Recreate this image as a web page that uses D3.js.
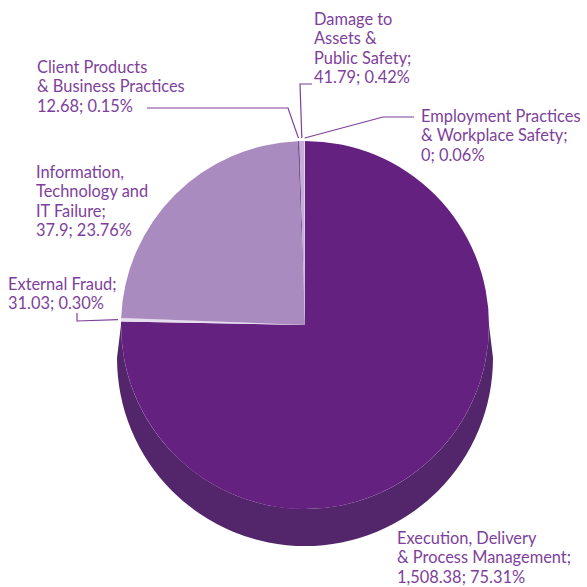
<!DOCTYPE html>
<html>
<head>
<meta charset="utf-8">
<script src="https://cdn.jsdelivr.net/npm/d3@7.9.0/dist/d3.min.js"></script>
<style>
  body { margin: 0; background: #fff; }
  svg text { font-family: Lato, sans-serif; font-size: 16.4px; fill: #7e3f9c; }
</style>
</head>
<body>
<svg id="chart" width="587" height="587"></svg>
<script>
const categories = [
  "Execution, Delivery & Process Management",
  "External Fraud",
  "Information, Technology and IT Failure",
  "Client Products & Business Practices",
  "Damage to Assets & Public Safety",
  "Employment Practices & Workplace Safety"
];
const amounts = [1508.38, 31.03, 37.9, 12.68, 41.79, 0];
const shares = [75.31, 0.30, 23.76, 0.15, 0.42, 0.06];
const labelLines = [
  ["Execution, Delivery", "& Process Management;"],
  ["External Fraud;"],
  ["Information,", "Technology and", "IT Failure;"],
  ["Client Products", "& Business Practices"],
  ["Damage to", "Assets &", "Public Safety;"],
  ["Employment Practices", "& Workplace Safety;"]
];
const colors = ["#652180", "#e6ddef", "#aa8bc0", "#7e4a9c", "#c4add6", "#dcd0e6"];
const sideColors = ["#53266c", "#b9a9c8", "#8a6fa2", "#5e3a78", "#9d86b0", "#b3a6c0"];

const svg = d3.select("#chart");
const cx = 305, cy = 325, r = 184;      // top face
const bx = 305, by = 358, br = 188;     // bottom rim

const pie = d3.pie().sort(null).value(d => d).startAngle(0).endAngle(2 * Math.PI);
const arcs = pie(shares);
const arc = d3.arc().innerRadius(0).outerRadius(r);

const pt = (x0, y0, rad, a) => [x0 + rad * Math.sin(a), y0 - rad * Math.cos(a)];

// sides, front half only
arcs.forEach((d, i) => {
  const a0 = Math.max(d.startAngle, Math.PI / 2);
  const a1 = Math.min(d.endAngle, 3 * Math.PI / 2);
  if (a1 <= a0) return;
  const p = d3.path();
  const s = pt(cx, cy, r, a0);
  p.moveTo(s[0], s[1]);
  p.arc(cx, cy, r, a0 - Math.PI / 2, a1 - Math.PI / 2, false);
  const e = pt(bx, by, br, a1);
  p.lineTo(e[0], e[1]);
  p.arc(bx, by, br, a1 - Math.PI / 2, a0 - Math.PI / 2, true);
  p.closePath();
  svg.append("path").attr("d", p.toString()).attr("fill", sideColors[i]);
});

// top face
svg.append("g")
  .attr("transform", `translate(${cx},${cy})`)
  .selectAll("path")
  .data(arcs)
  .join("path")
  .attr("d", arc)
  .attr("fill", (d, i) => colors[i]);

// labels: x, first baseline, leader elbow points (null = no leader)
const layout = [
  { x: 397, y: 544, leader: null },
  { x: 8, y: 290, leader: [[77, 321], [77, 313]] },
  { x: 36, y: 178, leader: null },
  { x: 37, y: 73, leader: [[288, 108], [147, 108]] },
  { x: 314, y: 25, leader: [[300, 84], [312, 84]] },
  { x: 421, y: 122, leader: [[383, 117], [414, 117]] }
];
const fmtAmt = d3.format(",");
const fmtPct = d3.format(".2f");
const lh = 19.4;

arcs.forEach((d, i) => {
  const L = layout[i];
  const lines = labelLines[i].concat([`${fmtAmt(amounts[i])}; ${fmtPct(shares[i])}%`]);
  const t = svg.append("text").attr("x", L.x).attr("y", L.y);
  lines.forEach((s, k) => t.append("tspan").attr("x", L.x).attr("dy", k ? lh : 0).text(s));
  if (L.leader) {
    const mid = (d.startAngle + d.endAngle) / 2;
    const start = pt(cx, cy, r + 3, mid);
    svg.append("path")
      .attr("d", d3.line()([start].concat(L.leader)))
      .attr("fill", "none").attr("stroke", "#7e3f9c").attr("stroke-width", 1.2);
  }
});
</script>
</body>
</html>
